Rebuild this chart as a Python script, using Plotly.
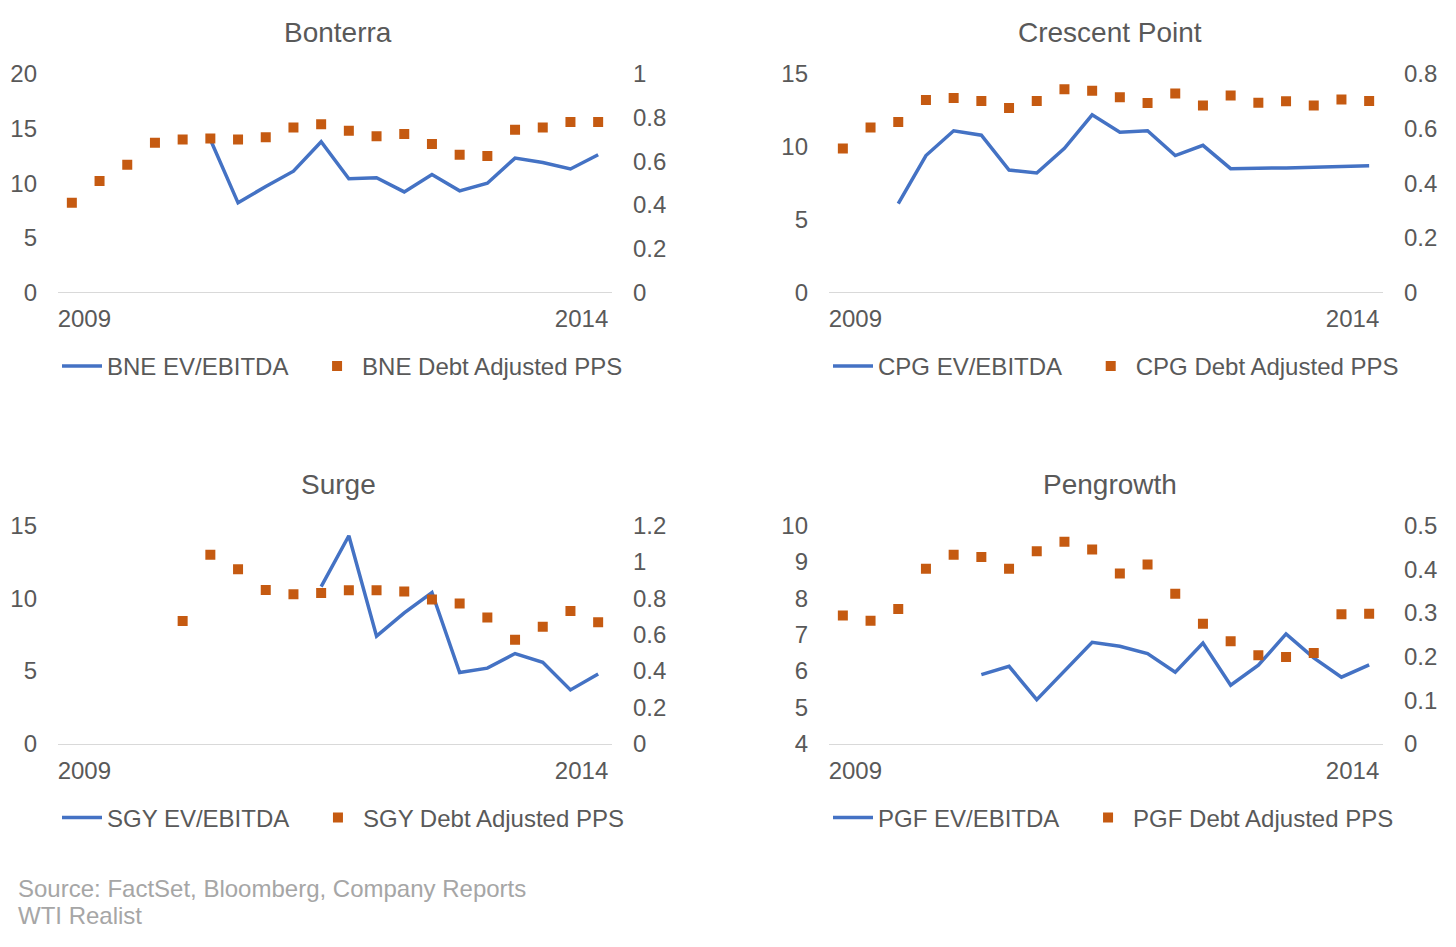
import plotly.graph_objects as go

# ---------------- data ----------------
n_periods = 20
period_idx = list(range(n_periods))
year_labels = ["2009", "2014"]

titles = ["Bonterra", "Crescent Point", "Surge", "Pengrowth"]
tickers = ["BNE", "CPG", "SGY", "PGF"]

bne_ev = [None, None, None, None, None, 14.0, 8.2, 9.7, 11.1, 13.8,
          10.4, 10.5, 9.2, 10.8, 9.3, 10.0, 12.3, 11.9, 11.3, 12.6]
bne_pps = [0.41, 0.51, 0.585, 0.685, 0.70, 0.705, 0.70, 0.71, 0.755, 0.77,
           0.74, 0.715, 0.725, 0.68, 0.63, 0.625, 0.745, 0.755, 0.78, 0.78]

cpg_ev = [None, None, 6.1, 9.4, 11.1, 10.8, 8.4, 8.2, 9.9, 12.2,
          11.0, 11.1, 9.4, 10.1, 8.5, 8.5, 8.55, 8.6, 8.65, 8.7]
cpg_pps = [0.527, 0.604, 0.624, 0.705, 0.712, 0.701, 0.676, 0.701, 0.744, 0.739,
           0.715, 0.694, 0.729, 0.685, 0.721, 0.695, 0.70, 0.685, 0.707, 0.701]

sgy_ev = [None, None, None, None, None, None, None, None, None, 10.8,
          14.3, 7.4, 9.0, 10.4, 4.9, 5.2, 6.2, 5.6, 3.7, 4.8]
sgy_pps = [None, None, None, None, 0.675, 1.04, 0.96, 0.845, 0.822, 0.829,
           0.844, 0.844, 0.837, 0.794, 0.771, 0.694, 0.572, 0.644, 0.73, 0.668]

pgf_ev = [None, None, None, None, None, 5.9, 6.13, 5.21, 6.0, 6.79,
          6.68, 6.48, 5.97, 6.77, 5.61, 6.16, 7.02, 6.36, 5.83, 6.17]
pgf_pps = [0.294, 0.282, 0.309, 0.401, 0.433, 0.428, 0.401, 0.441, 0.463, 0.445,
           0.39, 0.411, 0.344, 0.275, 0.235, 0.203, 0.199, 0.208, 0.297, 0.298]

ev_series = [bne_ev, cpg_ev, sgy_ev, pgf_ev]
pps_series = [bne_pps, cpg_pps, sgy_pps, pgf_pps]

left_ranges = [(0, 20, 5), (0, 15, 5), (0, 15, 5), (4, 10, 1)]
right_ranges = [(0, 1, 0.2), (0, 0.8, 0.2), (0, 1.2, 0.2), (0, 0.5, 0.1)]

# ---------------- layout geometry (figure pixels) ----------------
W, H = 1440, 931
FONT = "Liberation Sans, Arial, sans-serif"
TXT = "#595959"
BLUE = "#4472C4"
ORANGE = "#C55A11"

x_px = [(50, 604), (821, 1375), (50, 604), (821, 1375)]
y_px = [(53.6, 278.4), (53.6, 278.4), (518.6, 743.3), (518.6, 743.3)]
title_px = [(330, 10.5), (1102, 10.5), (330, 476.3), (1102, 476.3)]
legend_px = [(49, 354.6), (820, 354.6), (49, 819.6), (820, 819.6)]
GAP = "\u2002\u00a0"

fig = go.Figure()
layout = dict(
    width=W, height=H,
    margin=dict(l=0, r=0, t=0, b=0),
    paper_bgcolor="white", plot_bgcolor="white",
    font=dict(family=FONT, size=24, color=TXT),
    showlegend=True,
)

annotations = []
for i in range(4):
    xn = i + 1
    yl = 2 * i + 1
    yr = 2 * i + 2
    xa = "x" if xn == 1 else f"x{xn}"
    yla = "y" if yl == 1 else f"y{yl}"
    yra = f"y{yr}"
    leg = "legend" if i == 0 else f"legend{i + 1}"

    fig.add_trace(go.Scatter(
        x=period_idx, y=ev_series[i], mode="lines",
        name=f"{tickers[i]} EV/EBITDA" + GAP,
        line=dict(color=BLUE, width=3.5),
        xaxis=xa, yaxis=yla, legend=leg, connectgaps=False,
    ))
    fig.add_trace(go.Scatter(
        x=period_idx, y=pps_series[i], mode="markers",
        name=f"{tickers[i]} Debt Adjusted PPS",
        marker=dict(symbol="square", size=10, color=ORANGE, line=dict(width=0)),
        xaxis=xa, yaxis=yra, legend=leg,
    ))

    x0, x1 = x_px[i]
    yt, yb = y_px[i]
    xdom = [x0 / W, x1 / W]
    ydom = [1 - yb / H, 1 - yt / H]

    xkey = "xaxis" if xn == 1 else f"xaxis{xn}"
    layout[xkey] = dict(
        domain=xdom, anchor=yla,
        range=[-0.5, n_periods - 0.5],
        tickvals=[0.45, n_periods - 1.6], ticktext=year_labels,
        showgrid=False, zeroline=False,
        showline=True, linecolor="#D9D9D9", linewidth=1.3,
        ticks="", ticklabelstandoff=5,
        tickfont=dict(size=24, color=TXT, family=FONT),
        fixedrange=True,
    )
    lo, hi, dt = left_ranges[i]
    ylkey = "yaxis" if yl == 1 else f"yaxis{yl}"
    layout[ylkey] = dict(
        domain=ydom, anchor=xa,
        range=[lo, hi], dtick=dt, tick0=lo,
        showgrid=False, zeroline=False, showline=False,
        ticks="", ticklabelstandoff=20,
        tickfont=dict(size=24, color=TXT, family=FONT),
    )
    rlo, rhi, rdt = right_ranges[i]
    layout[f"yaxis{yr}"] = dict(
        overlaying=yla, side="right", anchor=xa,
        range=[rlo, rhi], dtick=rdt, tick0=rlo,
        showgrid=False, zeroline=False, showline=False,
        ticks="", ticklabelstandoff=20,
        tickfont=dict(size=24, color=TXT, family=FONT),
    )

    lx, ly = legend_px[i]
    layout[leg] = dict(
        orientation="h", x=lx / W, y=1 - ly / H,
        xanchor="left", yanchor="middle",
        font=dict(size=24, color=TXT, family=FONT),
        bgcolor="rgba(0,0,0,0)", itemwidth=40,
        traceorder="normal",
    )

    tx, ty = title_px[i]
    annotations.append(dict(
        text=titles[i], x=tx / W, y=1 - ty / H, xref="paper", yref="paper",
        xanchor="center", yanchor="middle", showarrow=False,
        font=dict(size=28, color=TXT, family=FONT),
    ))

annotations.append(dict(
    text="Source: FactSet, Bloomberg, Company Reports", x=8 / W, y=1 - 892 / H,
    xref="paper", yref="paper", xanchor="left", yanchor="middle", showarrow=False,
    font=dict(size=24, color="#A6A6A6", family=FONT),
))
annotations.append(dict(
    text="WTI Realist", x=8 / W, y=1 - 920.5 / H,
    xref="paper", yref="paper", xanchor="left", yanchor="middle", showarrow=False,
    font=dict(size=24, color="#A6A6A6", family=FONT),
))
layout["annotations"] = annotations

fig.update_layout(**layout)
fig.write_html("out.html")
